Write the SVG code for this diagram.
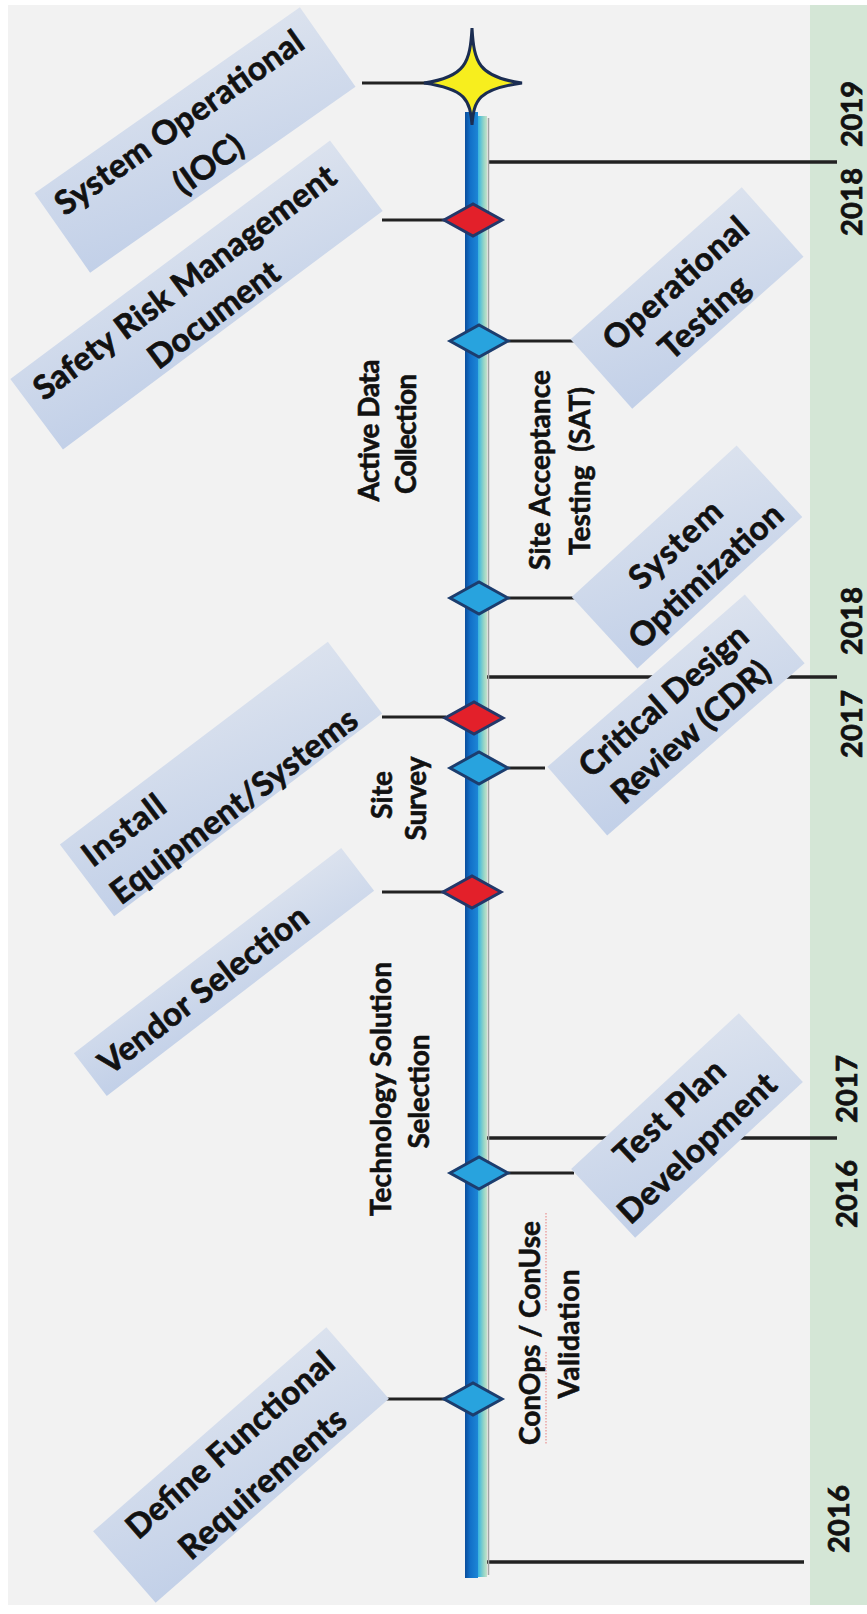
<svg xmlns="http://www.w3.org/2000/svg" width="867" height="1614" viewBox="0 0 867 1614">
<style>
.bt{font-family:Lato,"Liberation Sans",sans-serif;font-weight:700;font-size:33px;fill:#111;stroke:#111;stroke-width:0.7px;text-anchor:middle}
.bl{font-family:Lato,"Liberation Sans",sans-serif;font-weight:700;font-size:28px;fill:#111;stroke:#111;stroke-width:0.6px;text-anchor:middle}
.yr{font-family:Lato,"Liberation Sans",sans-serif;font-weight:700;font-size:29px;fill:#111;stroke:#111;stroke-width:0.7px;text-anchor:middle}
.box{fill:url(#boxg)}
.con{stroke:#222;stroke-width:3;fill:none}
.tick{stroke:#222;stroke-width:3.5;fill:none}
.dr{fill:#e3202a;stroke:#23386a;stroke-width:3;stroke-linejoin:miter}
.db{fill:#28a3de;stroke:#1c3d6e;stroke-width:3;stroke-linejoin:miter}
</style>
<defs>
<linearGradient id="boxg" x1="1" y1="0" x2="0" y2="1">
<stop offset="0" stop-color="#dbe2ee"/>
<stop offset="1" stop-color="#c2d0e8"/>
</linearGradient>
<linearGradient id="tlBlue" x1="0" y1="0" x2="1" y2="0">
<stop offset="0" stop-color="#0a4d9c"/>
<stop offset="0.4" stop-color="#1270c8"/>
<stop offset="1" stop-color="#1d86d6"/>
</linearGradient>
<linearGradient id="tlTeal" x1="0" y1="0" x2="1" y2="0">
<stop offset="0" stop-color="#35b4e2"/>
<stop offset="0.6" stop-color="#8fd3c8"/>
<stop offset="1" stop-color="#c6e2c8"/>
</linearGradient>
<clipPath id="area"><rect x="8" y="5" width="859" height="1600"/></clipPath>
<path id="dia" d="M-29,0 L0,-16 L29,0 L0,16 Z"/>
</defs>

<g id="background">
<rect x="0" y="0" width="867" height="1614" fill="#ffffff"/>
<rect x="8" y="5" width="802" height="1600" fill="#f2f2f2"/>
<rect x="810" y="5" width="57" height="1600" fill="#d4e6d6"/>
</g>

<g id="year-ticks">
<line class="tick" x1="489" y1="162" x2="837" y2="162"/>
<line class="tick" x1="484" y1="677" x2="837" y2="677"/>
<line class="tick" x1="484" y1="1138" x2="837" y2="1138"/>
<line class="tick" x1="480" y1="1562" x2="804" y2="1562"/>
</g>

<g id="timeline">
<rect x="465" y="112" width="13" height="1466" fill="url(#tlBlue)"/>
<rect x="478" y="116" width="9" height="1461" fill="url(#tlTeal)"/>
<line x1="488.5" y1="118" x2="488.5" y2="1575" stroke="#a3a3a3" stroke-width="1.5"/>
</g>

<g id="connectors">
<line class="con" x1="362" y1="83" x2="430" y2="83"/>
<line class="con" x1="382" y1="220" x2="445" y2="220"/>
<line class="con" x1="508" y1="341" x2="574" y2="341"/>
<line class="con" x1="508" y1="598" x2="575" y2="598"/>
<line class="con" x1="382" y1="717" x2="446" y2="717"/>
<line class="con" x1="508" y1="768" x2="545" y2="768"/>
<line class="con" x1="382" y1="892" x2="444" y2="892"/>
<line class="con" x1="508" y1="1173" x2="574" y2="1173"/>
<line class="con" x1="382" y1="1399" x2="445" y2="1399"/>
</g>

<g clip-path="url(#area)">
<g id="node-system-operational" transform="translate(195,140) rotate(-35)">
<rect class="box" x="-162" y="-48.5" width="324" height="97"/>
<text class="bt" x="-3" y="-12" textLength="295">System Operational</text>
<text class="bt" x="-3" y="39" textLength="77">(IOC)</text>
</g>
<g id="node-safety-risk" transform="translate(196.5,295) rotate(-36.75)">
<rect class="box" x="-199.5" y="-44" width="399" height="88"/>
<text class="bt" x="-2" y="-6" textLength="368">Safety Risk Management</text>
<text class="bt" x="2" y="37.5" textLength="155">Document</text>
</g>
<g id="node-install" transform="translate(221,779) rotate(-37.1)">
<rect class="box" x="-168" y="-45" width="336" height="90"/>
<text class="bt" x="-156" y="-6.5" textLength="95" style="text-anchor:start">Install</text>
<text class="bt" x="-156" y="40.5" textLength="300" style="text-anchor:start">Equipment/Systems</text>
</g>
<g id="node-vendor" transform="translate(224,972) rotate(-37.5)">
<rect class="box" x="-168.5" y="-27" width="337" height="54"/>
<text class="bt" x="-27" y="13" textLength="254">Vendor Selection</text>
</g>
<g id="node-define" transform="translate(241,1465) rotate(-41.2)">
<rect class="box" x="-155" y="-47.5" width="310" height="95"/>
<text class="bt" x="5" y="-11" textLength="264">Define Functional</text>
<text class="bt" x="4" y="39.5" textLength="210">Requirements</text>
</g>
<g id="node-operational-testing" transform="translate(687,298) rotate(-41.6)">
<rect class="box" x="-114.5" y="-46.5" width="229" height="93"/>
<text class="bt" x="1" y="-7" textLength="182">Operational</text>
<text class="bt" x="0" y="37" textLength="108">Testing</text>
</g>
<g id="node-system-optimization" transform="translate(687,557) rotate(-42.6)">
<rect class="box" x="-112" y="-48.5" width="224" height="97"/>
<text class="bt" x="0" y="-5.6" textLength="113">System</text>
<text class="bt" x="1" y="38" textLength="196">Optimization</text>
</g>
<g id="node-cdr" transform="translate(676,715) rotate(-41.1)">
<rect class="box" x="-131" y="-45.5" width="262" height="91"/>
<text class="bt" x="0" y="-7.7" textLength="212">Critical Design</text>
<text class="bt" x="0" y="34" textLength="198">Review (CDR)</text>
</g>
<g id="node-test-plan" transform="translate(687,1125.5) rotate(-42.9)">
<rect class="box" x="-114.5" y="-47" width="229" height="94"/>
<text class="bt" x="-4" y="-10" textLength="138">Test Plan</text>
<text class="bt" x="-8" y="34.7" textLength="203">Development</text>
</g>
</g>

<g id="markers">
<use href="#dia" class="dr" transform="translate(473,220)"/>
<use href="#dia" class="db" transform="translate(479,341)"/>
<use href="#dia" class="db" transform="translate(479,598)"/>
<use href="#dia" class="dr" transform="translate(474,718)"/>
<use href="#dia" class="db" transform="translate(479,768)"/>
<use href="#dia" class="dr" transform="translate(472,892)"/>
<use href="#dia" class="db" transform="translate(479,1173)"/>
<use href="#dia" class="db" transform="translate(473,1399)"/>
</g>

<g id="node-star">
<path d="M472,28 C474,62 478,77 522,83 C478,89 474,100 472,125 C470,100 466,89 424,83 C466,77 470,62 472,28 Z" fill="#f7ee1e" stroke="#1b2d52" stroke-width="3" stroke-linejoin="miter"/>
</g>

<g id="phase-labels">
<g id="label-active-data">
<text class="bl" transform="translate(379,430.5) rotate(-90)" textLength="142">Active Data</text>
<text class="bl" transform="translate(416,434) rotate(-90)" textLength="120">Collection</text>
</g>
<g id="label-sat">
<text class="bl" transform="translate(550,470) rotate(-90)" textLength="200" xml:space="preserve">Site Acceptance</text>
<text class="bl" transform="translate(590,471) rotate(-90)" textLength="168" xml:space="preserve">Testing  (SAT)</text>
</g>
<g id="label-site-survey">
<text class="bl" transform="translate(392,795) rotate(-90)" textLength="48">Site</text>
<text class="bl" transform="translate(426,798.5) rotate(-90)" textLength="84">Survey</text>
</g>
<g id="label-technology">
<text class="bl" transform="translate(391,1089) rotate(-90)" textLength="254">Technology Solution</text>
<text class="bl" transform="translate(429,1091.5) rotate(-90)" textLength="114">Selection</text>
</g>
<g id="label-conops">
<text class="bl" transform="translate(540,1333) rotate(-90)" textLength="224">ConOps / ConUse</text>
<text class="bl" transform="translate(579,1334) rotate(-90)" textLength="129">Validation</text>
<line x1="546" y1="1213" x2="546" y2="1312" stroke="#e89090" stroke-width="1.2" stroke-dasharray="1.5 1.5"/>
<line x1="546" y1="1352" x2="546" y2="1444" stroke="#e89090" stroke-width="1.2" stroke-dasharray="1.5 1.5"/>
</g>
</g>

<g id="years">
<text class="yr" transform="translate(862,114) rotate(-90)" textLength="66">2019</text>
<text class="yr" transform="translate(862,202) rotate(-90)" textLength="68">2018</text>
<text class="yr" transform="translate(862,621) rotate(-90)" textLength="68">2018</text>
<text class="yr" transform="translate(862,724) rotate(-90)" textLength="68">2017</text>
<text class="yr" transform="translate(857,1089) rotate(-90)" textLength="68">2017</text>
<text class="yr" transform="translate(857,1194) rotate(-90)" textLength="68">2016</text>
<text class="yr" transform="translate(849,1519) rotate(-90)" textLength="68">2016</text>
</g>
</svg>
